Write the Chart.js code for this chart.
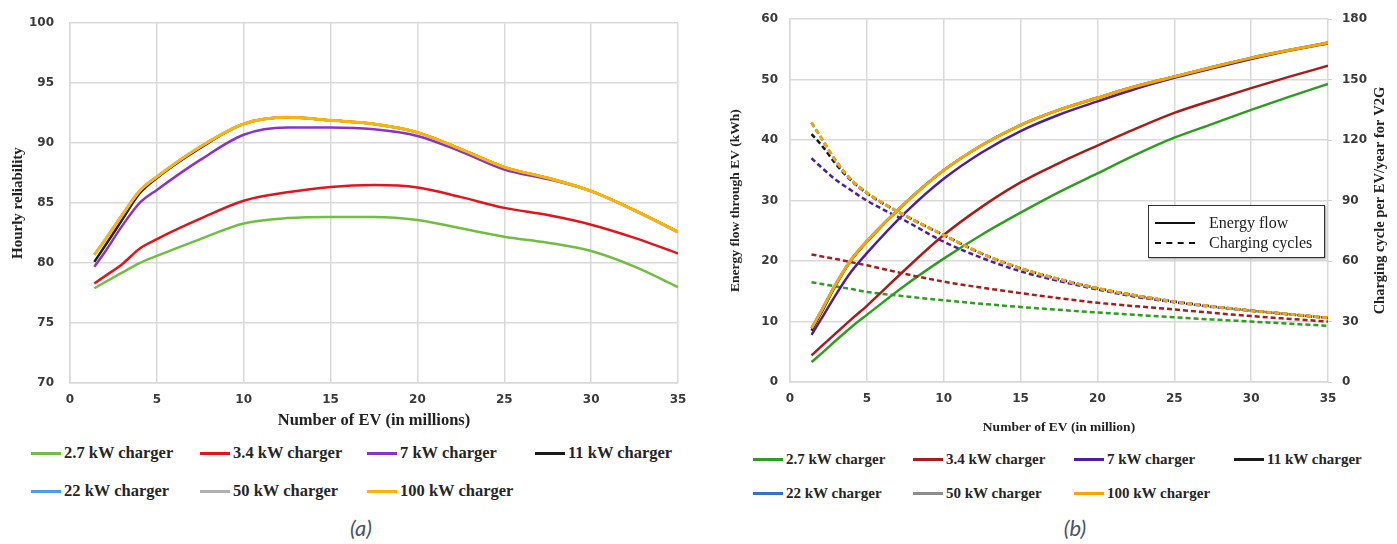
<!DOCTYPE html>
<html>
<head>
<meta charset="utf-8">
<script src="https://cdn.jsdelivr.net/npm/chart.js@4.4.1/dist/chart.umd.min.js"></script>
<style>
  body { margin: 0; background: #fff; width: 1397px; height: 544px; position: relative; overflow: hidden; }
  canvas { position: absolute; top: 0; }
  .leg { position: absolute; display: flex; align-items: center; font: bold 16.5px "Liberation Serif", serif; color: #262626; white-space: nowrap; }
  .leg i { display: inline-block; width: 30px; height: 3px; margin-right: 3px; }
  .legB { font-size: 15px; }
  .cap { position: absolute; top: 514px; font: italic 22px Lato, "Open Sans", sans-serif; color: #44546a; transform: translateX(-50%); }
  #boxB { position: absolute; left: 1148px; top: 205px; width: 175px; height: 51px; border: 1.5px solid #333; background: #fff;
          box-shadow: 1px 1px 2px #999; font: 16px "Liberation Serif", serif; color: #222; }
  #boxB div { position: absolute; left: 6px; display: flex; align-items: center; }
  #boxB span { display: inline-block; width: 40px; margin-right: 14px; }
</style>
</head>
<body>
<canvas id="chartA" width="700" height="440" style="left:0"></canvas>
<canvas id="chartB" width="697" height="440" style="left:700px"></canvas>
<div id="boxB">
  <div style="top:8px"><span style="border-top:2.5px solid #111"></span>Energy flow</div>
  <div style="top:28px"><span style="border-top:2.5px dashed #111"></span>Charging cycles</div>
</div>
<div class="cap" style="left:361px">(a)</div>
<div class="cap" style="left:1075px">(b)</div>
<script>
// x positions (number of EV, millions)
const evCount = [1.4, 2, 3, 4, 5, 7.5, 10, 12.5, 15, 17.5, 20, 22.5, 25, 27.5, 30, 32.5, 35];
const chargerLabels = ['2.7 kW charger', '3.4 kW charger', '7 kW charger', '11 kW charger',
                       '22 kW charger', '50 kW charger', '100 kW charger'];

// (a) hourly reliability
const relia2_7 = [77.9, 78.4, 79.2, 80.0, 80.6, 82.0, 83.3, 83.75, 83.85, 83.85, 83.6, 82.9, 82.2, 81.7, 81.0, 79.7, 78.0];
const relia3_4 = [78.3, 78.9, 79.9, 81.2, 82.0, 83.7, 85.2, 85.9, 86.35, 86.5, 86.3, 85.5, 84.6, 84.0, 83.2, 82.1, 80.8];
const relia7   = [79.7, 80.9, 83.1, 85.0, 86.1, 88.6, 90.7, 91.3, 91.3, 91.15, 90.6, 89.3, 87.8, 87.0, 86.0, 84.4, 82.6];
const relia11  = [80.1, 81.4, 83.6, 85.8, 87.1, 89.6, 91.6, 92.15, 91.9, 91.6, 90.9, 89.5, 88.0, 87.1, 86.0, 84.4, 82.6];
const relia22  = [80.7, 81.9, 84.0, 86.0, 87.2, 89.7, 91.6, 92.15, 91.9, 91.6, 90.9, 89.5, 88.0, 87.1, 86.0, 84.4, 82.6];
const relia50  = [80.7, 81.9, 84.0, 86.0, 87.2, 89.7, 91.6, 92.15, 91.9, 91.6, 90.9, 89.5, 88.0, 87.1, 86.0, 84.4, 82.6];
const relia100 = [80.7, 81.9, 84.0, 86.0, 87.2, 89.7, 91.6, 92.15, 91.9, 91.6, 90.9, 89.5, 88.0, 87.1, 86.0, 84.4, 82.6];

// (b) energy flow through EV (kWh), left axis
const energy2_7 = [3.3, 4.6, 6.9, 9.1, 11.1, 16.0, 20.4, 24.4, 28.0, 31.4, 34.5, 37.6, 40.4, 42.7, 45.0, 47.2, 49.3];
const energy3_4 = [4.4, 5.8, 8.1, 10.4, 12.6, 18.6, 24.3, 29.0, 33.0, 36.2, 39.1, 41.9, 44.5, 46.6, 48.6, 50.5, 52.3];
const energy7   = [7.8, 10.3, 14.5, 18.3, 21.3, 28.0, 33.6, 38.0, 41.5, 44.2, 46.4, 48.5, 50.3, 51.9, 53.4, 54.8, 56.0];
const energy11  = [8.5, 11.3, 16.1, 20.2, 23.2, 29.6, 35.0, 39.2, 42.5, 45.0, 47.0, 48.9, 50.5, 52.1, 53.6, 54.9, 56.1];
const energy22  = [8.9, 11.6, 16.3, 20.3, 23.3, 29.6, 35.0, 39.2, 42.5, 45.0, 47.0, 48.9, 50.5, 52.1, 53.6, 54.9, 56.1];
const energy50  = [8.9, 11.6, 16.3, 20.3, 23.3, 29.6, 35.0, 39.2, 42.5, 45.0, 47.0, 48.9, 50.5, 52.1, 53.6, 54.9, 56.1];
const energy100 = [8.9, 11.6, 16.3, 20.3, 23.3, 29.6, 35.0, 39.2, 42.5, 45.0, 47.0, 48.9, 50.5, 52.1, 53.6, 54.9, 56.1];

// (b) charging cycles per EV/year, right axis
const cycles2_7 = [49.5, 48.7, 47.4, 46.1, 44.7, 42.5, 40.5, 38.8, 37.2, 35.8, 34.5, 33.3, 32.1, 31.0, 30.0, 28.9, 27.9];
const cycles3_4 = [63.3, 62.4, 61.0, 59.4, 57.9, 53.6, 49.8, 46.8, 44.1, 41.6, 39.3, 37.6, 36.0, 34.3, 32.7, 31.3, 30.0];
const cycles7   = [111.0, 106.8, 100.2, 95.0, 90.0, 80.0, 69.6, 61.5, 54.9, 50.1, 45.9, 42.3, 39.6, 37.2, 35.4, 33.6, 31.8];
const cycles11  = [123.0, 118.0, 108.0, 99.8, 93.6, 82.5, 72.9, 63.6, 56.4, 51.0, 46.5, 42.9, 39.9, 37.5, 35.4, 33.6, 31.8];
const cycles22  = [128.7, 121.5, 109.5, 100.2, 93.9, 82.5, 72.9, 63.6, 56.4, 51.0, 46.5, 42.9, 39.9, 37.5, 35.4, 33.6, 31.8];
const cycles50  = [128.7, 121.5, 109.5, 100.2, 93.9, 82.5, 72.9, 63.6, 56.4, 51.0, 46.5, 42.9, 39.9, 37.5, 35.4, 33.6, 31.8];
const cycles100 = [128.7, 121.5, 109.5, 100.2, 93.9, 82.5, 72.9, 63.6, 56.4, 51.0, 46.5, 42.9, 39.9, 37.5, 35.4, 33.6, 31.8];

const xTitleA = 'Number of EV (in millions)';
const yTitleA = 'Hourly reliability';
const xTitleB = 'Number of EV (in million)';
const yTitleB = 'Energy flow through EV (kWh)';
const y2TitleB = 'Charging cycle per EV/year for V2G';

const coloursA = ['#70bf41', '#e3141b', '#8a33c8', '#1a1a1a', '#46a0ea', '#b0b0b0', '#ffb400'];
const coloursB = ['#2e9e1f', '#a81c1c', '#4d1fa0', '#1a1a1a', '#2f75c0', '#8c8c8c', '#f5a600'];

const reliaSets = [relia2_7, relia3_4, relia7, relia11, relia22, relia50, relia100];
const energySets = [energy2_7, energy3_4, energy7, energy11, energy22, energy50, energy100];
const cycleSets = [cycles2_7, cycles3_4, cycles7, cycles11, cycles22, cycles50, cycles100];

const toPoints = ys => ys.map((y, i) => ({ x: evCount[i], y }));

const tickFont = { family: '"DejaVu Sans", sans-serif', size: 12, weight: 'bold' };
const gridOpts = { color: '#d9d9d9', lineWidth: 1.5, drawTicks: false };

// legend rows below each chart (html, laid out as a grid like the original)
function addLegend(colours, cols, rows, cls) {
    chargerLabels.forEach((lab, i) => {
        const d = document.createElement('div');
        d.className = 'leg' + (cls ? ' ' + cls : '');
        d.style.left = cols[i % 4] + 'px';
        d.style.top = (rows[Math.floor(i / 4)] - 10) + 'px';
        d.innerHTML = `<i style="background:${colours[i]}"></i>${lab}`;
        document.body.appendChild(d);
    });
}
addLegend(coloursA, [31, 200, 367, 535], [453, 491]);
addLegend(coloursB, [753, 913, 1074, 1234], [461, 495], 'legB');

// chart (a)
new Chart(document.getElementById('chartA'), {
    type: 'line',
    data: {
        datasets: reliaSets.map((ys, i) => ({
            label: chargerLabels[i],
            data: toPoints(ys),
            borderColor: coloursA[i],
            borderWidth: i === 6 ? 3 : 2.5,
            pointRadius: 0,
            cubicInterpolationMode: 'monotone',
            order: 6 - i
        }))
    },
    options: {
        responsive: false,
        animation: false,
        layout: { padding: { left: 0, right: 22, top: 20, bottom: 0 } },
        plugins: { legend: { display: false }, tooltip: { enabled: false } },
        scales: {
            x: {
                type: 'linear', min: 0, max: 35,
                ticks: { stepSize: 5, padding: 10, color: '#3a3a3a', font: tickFont, maxRotation: 0 },
                grid: gridOpts,
                border: { color: '#d9d9d9', width: 1.5 },
                title: { display: true, text: xTitleA, color: '#222', padding: { top: 0, bottom: 9 },
                         font: { family: '"Liberation Serif", serif', size: 16.5, weight: 'bold' } },
                afterFit: s => { s.height = 57; }
            },
            y: {
                min: 70, max: 100,
                ticks: { stepSize: 5, padding: 16, color: '#3a3a3a', font: tickFont },
                grid: gridOpts,
                border: { color: '#d9d9d9', width: 1.5 },
                title: { display: true, text: yTitleA, color: '#222', padding: { top: 9, bottom: 0 },
                         font: { family: '"Liberation Serif", serif', size: 15, weight: 'bold' } },
                afterFit: s => { s.width = 70; }
            }
        }
    }
});

// right axis title reads bottom-to-top in the original
const rightTitle = {
    id: 'rightTitle',
    afterDraw(chart) {
        const s = chart.scales.y2;
        const ctx = chart.ctx;
        ctx.save();
        ctx.translate(s.right - 17, (chart.chartArea.top + chart.chartArea.bottom) / 2);
        ctx.rotate(-Math.PI / 2);
        ctx.font = 'bold 14.5px "Liberation Serif", serif';
        ctx.fillStyle = '#222';
        ctx.textAlign = 'center';
        ctx.textBaseline = 'middle';
        ctx.fillText(y2TitleB, 0, 0);
        ctx.restore();
    }
};

// chart (b)
const datasetsB = [];
energySets.forEach((ys, i) => {
    datasetsB.push({
        label: chargerLabels[i],
        data: toPoints(ys),
        yAxisID: 'y',
        borderColor: coloursB[i],
        borderWidth: i === 6 ? 3 : 2.5,
        pointRadius: 0,
        cubicInterpolationMode: 'monotone',
        order: 6 - i
    });
});
cycleSets.forEach((ys, i) => {
    datasetsB.push({
        label: chargerLabels[i] + ' cycles',
        data: toPoints(ys),
        yAxisID: 'y2',
        borderColor: coloursB[i],
        borderWidth: i === 6 ? 3 : 2.5,
        borderDash: [5, 3],
        pointRadius: 0,
        cubicInterpolationMode: 'monotone',
        order: 6 - i
    });
});

new Chart(document.getElementById('chartB'), {
    type: 'line',
    data: { datasets: datasetsB },
    options: {
        responsive: false,
        animation: false,
        layout: { padding: { left: 0, right: 0, top: 18, bottom: 0 } },
        plugins: { legend: { display: false }, tooltip: { enabled: false } },
        scales: {
            x: {
                type: 'linear', min: 0, max: 35,
                ticks: { stepSize: 5, padding: 10, color: '#3a3a3a', font: tickFont, maxRotation: 0 },
                grid: gridOpts,
                border: { color: '#d9d9d9', width: 1.5 },
                title: { display: true, text: xTitleB, color: '#222', padding: { top: 0, bottom: 4 },
                         font: { family: '"Liberation Serif", serif', size: 13.5, weight: 'bold' } },
                afterFit: s => { s.height = 58; }
            },
            y: {
                position: 'left', min: 0, max: 60,
                ticks: { stepSize: 10, padding: 12, color: '#3a3a3a', font: tickFont },
                grid: gridOpts,
                border: { color: '#d9d9d9', width: 1.5 },
                title: { display: true, text: yTitleB, color: '#222', padding: { top: 27, bottom: 0 },
                         font: { family: '"Liberation Serif", serif', size: 13.5, weight: 'bold' } },
                afterFit: s => { s.width = 90; }
            },
            y2: {
                position: 'right', min: 0, max: 180,
                ticks: { stepSize: 30, padding: 10, color: '#3a3a3a', font: tickFont },
                grid: { drawOnChartArea: false, drawTicks: true, tickLength: 4, color: '#d0d0d0' },
                border: { display: false },
                afterFit: s => { s.width = 69; }
            }
        }
    },
    plugins: [rightTitle]
});
</script>
</body>
</html>
